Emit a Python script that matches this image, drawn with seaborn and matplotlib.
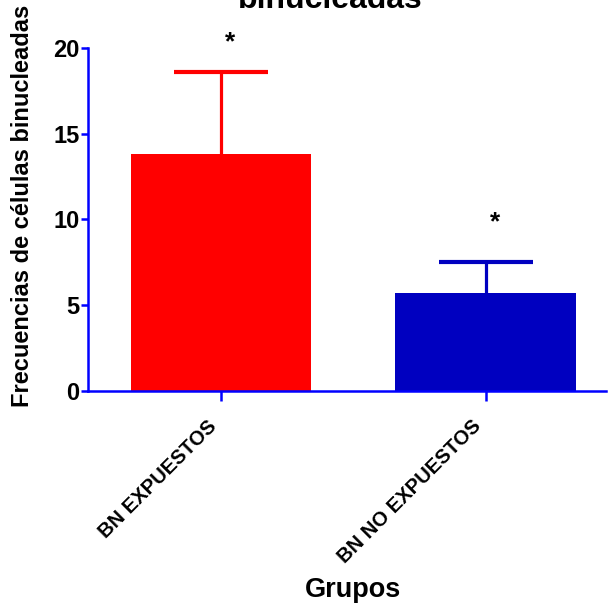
import matplotlib
matplotlib.use("Agg")
import matplotlib.pyplot as plt
import matplotlib.transforms as mtransforms
import seaborn as sns
import pandas as pd

categories = ["BN EXPUESTOS", "BN NO EXPUESTOS"]
means = [13.8, 5.72]
sd_upper = [4.8, 1.78]
bar_colors = ["#FF0000", "#0000C0"]
star_y = [20.35, 9.85]
yticks = [0, 5, 10, 15, 20]

sns.set_theme(style="white")
plt.rcParams['font.family'] = ['Liberation Sans', 'DejaVu Sans']
plt.rcParams['text.color'] = 'black'
plt.rcParams['axes.labelcolor'] = 'black'
plt.rcParams['xtick.labelcolor'] = 'black'
plt.rcParams['ytick.labelcolor'] = 'black'

df = pd.DataFrame({"grupo": categories, "valor": means})

fig = plt.figure(figsize=(6.08, 6.15), dpi=100)
ax = fig.add_axes([88/608, 1-391/615, (606-88)/608, (391-48)/615])

sns.barplot(data=df, x="grupo", y="valor", hue="grupo", palette=bar_colors,
            errorbar=None, width=0.683, legend=False, ax=ax, saturation=1)
for p in ax.patches:
    p.set_edgecolor("none")

for i, (m, s, c) in enumerate(zip(means, sd_upper, bar_colors)):
    eb = ax.errorbar(i, m, yerr=[[0], [s]], color=c, ecolor=c, elinewidth=2.3,
                     capsize=33.5, capthick=3.0, fmt="none", zorder=3)
    for cl in eb[1]:
        yd = cl.get_ydata()
        if abs(float(yd[0]) - m) < 1e-9:
            cl.set_visible(False)
    ax.text(i + 0.035, star_y[i], "*", ha="center", va="center",
            fontsize=19, fontweight="bold", color="black")

ax.set_xlim(-0.502, 1.453)
ax.set_ylim(0, 20)
ax.set_yticks(yticks)
ax.set_yticklabels([str(t) for t in yticks], fontsize=17, fontweight="bold")
ax.set_xticks([0, 1])
ax.set_xticklabels(categories, rotation=45, ha="right", rotation_mode="anchor",
                   fontsize=14.5, fontweight="bold")

for side in ["top", "right"]:
    ax.spines[side].set_visible(False)
for side in ["left", "bottom"]:
    ax.spines[side].set_color("#0000FF")
    ax.spines[side].set_linewidth(1.8)

ax.tick_params(axis="both", which="major", direction="out", color="#0000FF",
               width=1.8, length=5, left=True, bottom=True, pad=1)
ax.tick_params(axis="x", length=7, pad=5)

offset = mtransforms.ScaledTranslation(-14.5/100, -9/100, fig.dpi_scale_trans)
for tick in ax.xaxis.get_major_ticks():
    tick.label1.set_transform(tick.label1.get_transform() + offset)

ax.set_xlabel("Grupos", fontsize=19.5, fontweight="bold")
ax.set_ylabel("Frecuencias de células binucleadas", fontsize=17,
              fontweight="bold")
ax.yaxis.set_label_coords((23-88)/518, (391-206)/343)
ax.xaxis.set_label_coords((353-88)/518, (391-590)/343)
ax.xaxis.label.set_va("center")
ax.yaxis.label.set_va("center")

fig.text(330/608, 1.0, "binucleadas", ha="center", va="center",
         fontsize=23, fontweight="bold")

fig.savefig("out.png", dpi=100)
